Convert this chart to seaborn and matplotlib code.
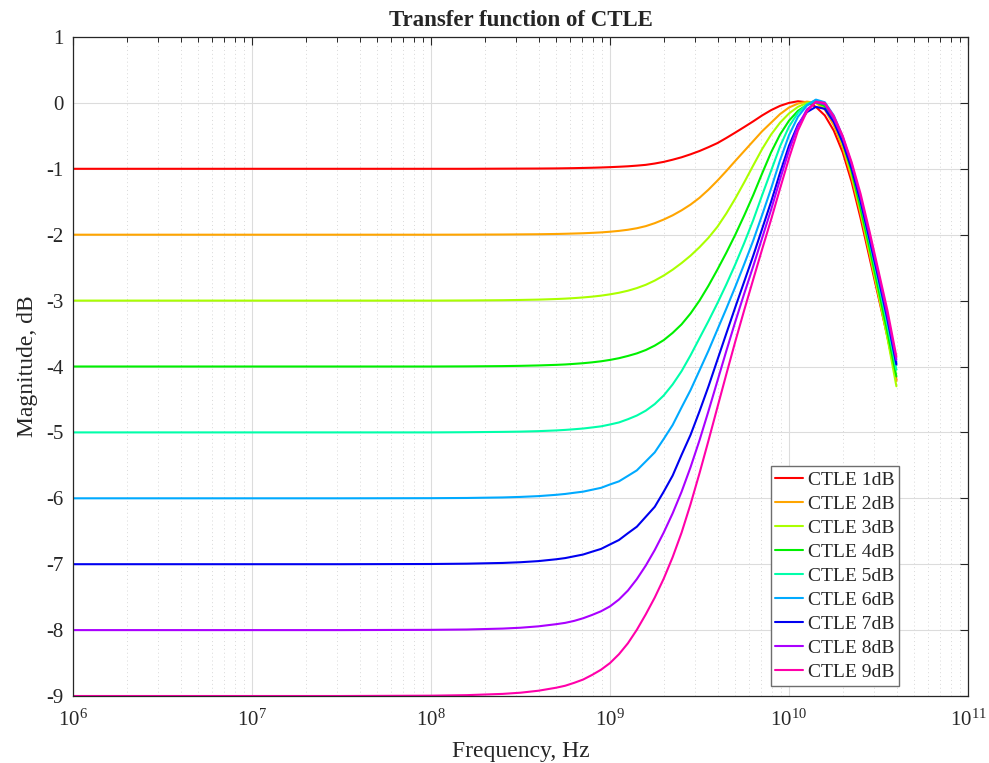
import numpy as np
import pandas as pd
import matplotlib
matplotlib.use("Agg")
import matplotlib.pyplot as plt
import matplotlib.ticker as mticker
import seaborn as sns

# ---- data (log10 of frequency, magnitude in dB) ----
log_f = [6.0, 7.0, 7.5, 8.0, 8.2, 8.4, 8.5, 8.6, 8.7, 8.75, 8.8, 8.85, 8.9, 8.95,
         9.0, 9.05, 9.1, 9.15, 9.2, 9.25, 9.3, 9.35, 9.4, 9.45, 9.5, 9.55, 9.6,
         9.65, 9.7, 9.75, 9.8, 9.85, 9.9, 9.95, 10.0, 10.05, 10.1, 10.15, 10.2,
         10.25, 10.3, 10.35, 10.4, 10.45, 10.5, 10.55, 10.6]

ctle_1 = [-1.0, -1.0, -1.0, -1.0, -1.0, -0.998, -0.997, -0.996, -0.994, -0.992, -0.99,
          -0.987, -0.984, -0.98, -0.975, -0.969, -0.962, -0.952, -0.94, -0.92, -0.895,
          -0.862, -0.825, -0.78, -0.73, -0.672, -0.61, -0.532, -0.45, -0.366, -0.28,
          -0.19, -0.11, -0.045, 0.0, 0.025, 0.01, -0.06, -0.19, -0.42, -0.75, -1.2,
          -1.75, -2.35, -2.95, -3.55, -4.2]
ctle_2 = [-2.0, -2.0, -2.0, -2.0, -1.999, -1.997, -1.995, -1.993, -1.989, -1.986, -1.982,
          -1.978, -1.972, -1.965, -1.955, -1.942, -1.925, -1.902, -1.87, -1.825, -1.77,
          -1.706, -1.63, -1.543, -1.44, -1.317, -1.18, -1.033, -0.88, -0.73, -0.58,
          -0.43, -0.30, -0.17, -0.07, -0.01, 0.02, 0.0, -0.10, -0.34, -0.68, -1.13,
          -1.68, -2.29, -2.91, -3.55, -4.22]
ctle_3 = [-3.0, -3.0, -3.0, -3.0, -2.998, -2.994, -2.99, -2.985, -2.976, -2.970, -2.962,
          -2.952, -2.94, -2.925, -2.905, -2.881, -2.85, -2.810, -2.76, -2.696, -2.62,
          -2.531, -2.43, -2.318, -2.19, -2.047, -1.88, -1.677, -1.45, -1.205, -0.95,
          -0.70, -0.48, -0.30, -0.16, -0.06, 0.0, 0.02, -0.06, -0.28, -0.63, -1.08,
          -1.64, -2.26, -2.90, -3.57, -4.30]
ctle_4 = [-4.0, -4.0, -4.0, -4.0, -3.998, -3.994, -3.99, -3.984, -3.975, -3.969, -3.96,
          -3.950, -3.937, -3.921, -3.90, -3.874, -3.84, -3.801, -3.75, -3.683, -3.60,
          -3.49, -3.36, -3.195, -3.00, -2.775, -2.53, -2.273, -2.00, -1.707, -1.40,
          -1.07, -0.75, -0.48, -0.27, -0.12, -0.03, 0.01, -0.05, -0.26, -0.60, -1.04,
          -1.60, -2.20, -2.83, -3.48, -4.15]
ctle_5 = [-5.0, -5.0, -5.0, -5.0, -4.997, -4.992, -4.988, -4.981, -4.97, -4.962, -4.952,
          -4.941, -4.925, -4.908, -4.88, -4.849, -4.80, -4.744, -4.67, -4.57, -4.44,
          -4.272, -4.07, -3.83, -3.57, -3.311, -3.04, -2.754, -2.45, -2.125, -1.78,
          -1.40, -1.03, -0.66, -0.36, -0.15, -0.02, 0.04, 0.0, -0.21, -0.54, -0.97,
          -1.51, -2.11, -2.73, -3.37, -4.05]
ctle_6 = [-6.0, -6.0, -6.0, -5.998, -5.995, -5.987, -5.979, -5.967, -5.947, -5.934, -5.916,
          -5.899, -5.87, -5.841, -5.79, -5.743, -5.66, -5.576, -5.44, -5.303, -5.10,
          -4.888, -4.62, -4.358, -4.06, -3.761, -3.44, -3.121, -2.79, -2.445, -2.09,
          -1.70, -1.30, -0.87, -0.49, -0.21, -0.04, 0.05, 0.01, -0.19, -0.51, -0.94,
          -1.47, -2.06, -2.67, -3.30, -3.95]
ctle_7 = [-7.0, -7.0, -7.0, -6.997, -6.992, -6.981, -6.97, -6.953, -6.925, -6.907, -6.88,
          -6.853, -6.81, -6.768, -6.70, -6.633, -6.53, -6.431, -6.28, -6.129, -5.90,
          -5.655, -5.34, -5.038, -4.68, -4.303, -3.90, -3.498, -3.10, -2.71, -2.32,
          -1.91, -1.50, -1.06, -0.65, -0.33, -0.14, -0.06, -0.09, -0.29, -0.60, -1.00,
          -1.50, -2.07, -2.66, -3.28, -3.97]
ctle_8 = [-8.0, -8.0, -8.0, -7.996, -7.991, -7.977, -7.964, -7.943, -7.91, -7.89, -7.86,
          -7.82, -7.77, -7.714, -7.64, -7.536, -7.40, -7.226, -7.02, -6.785, -6.52,
          -6.228, -5.90, -5.528, -5.12, -4.678, -4.22, -3.763, -3.32, -2.893, -2.48,
          -2.05, -1.62, -1.16, -0.72, -0.35, -0.10, 0.01, -0.02, -0.24, -0.53, -0.93,
          -1.43, -2.00, -2.60, -3.22, -3.90]
ctle_9 = [-9.0, -9.0, -9.0, -8.995, -8.987, -8.968, -8.95, -8.92, -8.874, -8.844, -8.80,
          -8.75, -8.68, -8.601, -8.50, -8.366, -8.20, -7.995, -7.76, -7.506, -7.22,
          -6.893, -6.52, -6.089, -5.62, -5.126, -4.62, -4.116, -3.62, -3.143, -2.68,
          -2.22, -1.77, -1.30, -0.84, -0.42, -0.13, 0.02, 0.0, -0.20, -0.50, -0.90,
          -1.38, -1.95, -2.55, -3.15, -3.85]

labels = ["CTLE 1dB", "CTLE 2dB", "CTLE 3dB", "CTLE 4dB", "CTLE 5dB",
          "CTLE 6dB", "CTLE 7dB", "CTLE 8dB", "CTLE 9dB"]
series = [ctle_1, ctle_2, ctle_3, ctle_4, ctle_5, ctle_6, ctle_7, ctle_8, ctle_9]
colors = ["#FF0000", "#FFA500", "#AAFF00", "#00F000", "#00FFAA",
          "#00AAFF", "#0000F0", "#AA00FF", "#FF00AA"]

y_ticks = [1, 0, -1, -2, -3, -4, -5, -6, -7, -8, -9]
x_ticks = [1e6, 1e7, 1e8, 1e9, 1e10, 1e11]

rows = []
for lab, vals in zip(labels, series):
    for lf, v in zip(log_f, vals):
        rows.append({"Frequency": 10 ** lf, "Magnitude": v, "Curve": lab})
df = pd.DataFrame(rows)

# ---- style ----
sns.set_style("white")
plt.rcParams["font.family"] = ["Liberation Serif", "DejaVu Serif"]
plt.rcParams["mathtext.fontset"] = "custom"
plt.rcParams["mathtext.rm"] = "Liberation Serif"
plt.rcParams["mathtext.it"] = "Liberation Serif:italic"

fig = plt.figure(figsize=(9.89, 7.63), dpi=100)
ax = fig.add_axes([73 / 989, 1 - 696 / 763, (968 - 73) / 989, (696 - 37) / 763])

sns.lineplot(data=df, x="Frequency", y="Magnitude", hue="Curve",
             hue_order=labels, palette=colors, linewidth=1.5,
             estimator=None, sort=False, ax=ax)

ax.set_xscale("log")
ax.set_xlim(1e6, 1e11)
ax.set_ylim(-9, 1)
ax.set_xticks(x_ticks)
ax.xaxis.set_major_formatter(mticker.LogFormatterMathtext())
ax.xaxis.set_minor_locator(mticker.LogLocator(base=10, subs=np.arange(2, 10), numticks=20))
ax.xaxis.set_minor_formatter(mticker.NullFormatter())
ax.set_yticks(y_ticks)
ax.set_yticklabels([str(t) for t in y_ticks])

ax.grid(True, which="major", color="#dcdcdc", linewidth=0.8, linestyle="-")
ax.grid(True, which="minor", axis="x", color="#d8d8d8", linewidth=0.7, linestyle=(0, (1, 3)))
ax.set_axisbelow(True)

ax.tick_params(which="both", direction="in", top=True, right=True, colors="#262626")
ax.tick_params(which="major", length=6, width=0.8, labelsize=15)
ax.tick_params(axis="x", which="major", pad=10)
ax.tick_params(axis="y", which="major", pad=7)
ax.tick_params(which="minor", length=3.5, width=0.7)
for s in ax.spines.values():
    s.set_color("#262626")
    s.set_linewidth(0.9)

ax.set_xlabel("Frequency, Hz", fontsize=17, color="#262626", labelpad=7)
ax.set_ylabel("Magnitude, dB", fontsize=17, color="#262626", labelpad=6)
ax.set_title("Transfer function of CTLE", fontsize=16.5, fontweight="bold", pad=8)

handles, labs = ax.get_legend_handles_labels()
leg = ax.legend(handles, labs, loc="lower right",
                bbox_to_anchor=((899 - 73) / 895, (696 - 686) / 659),
                borderaxespad=0, fontsize=14, frameon=True, fancybox=False,
                handlelength=1.4, handletextpad=0.25, labelspacing=0.33,
                borderpad=0.25)
leg.get_frame().set_edgecolor("#6e6e6e")
leg.get_frame().set_linewidth(1.0)
leg.get_frame().set_alpha(1.0)

fig.savefig("out.png", dpi=100)
